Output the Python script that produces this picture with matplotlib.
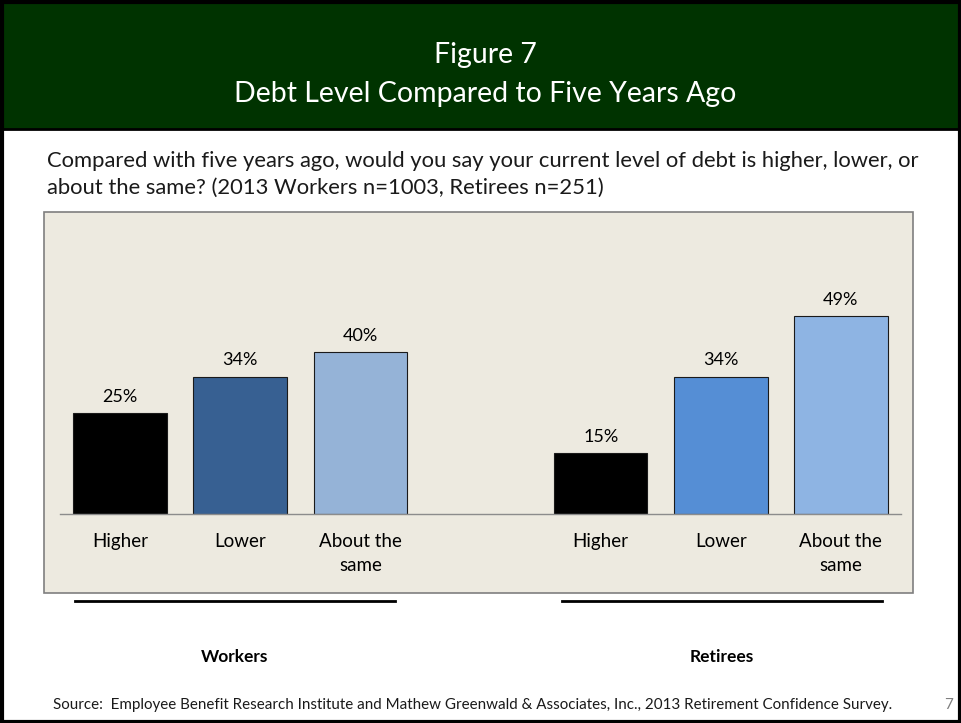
"""
Figure 7: Debt level compared to five years ago (workers vs retirees).
"""

import matplotlib
matplotlib.use("Agg")
import matplotlib.pyplot as plt
from matplotlib.patches import Rectangle
from matplotlib.lines import Line2D


# ==================== data ====================

CATEGORIES = ["Higher", "Lower", "About the\nsame"]
GROUPS = ["Workers", "Retirees"]
WORKERS = [25, 34, 40]
RETIREES = [15, 34, 49]

WORKER_COLORS = ["#000000", "#376092", "#95B3D7"]
RETIREE_COLORS = ["#000000", "#558ED5", "#8EB4E3"]

TITLE_LINES = ["Figure 7", "Debt Level Compared to Five Years Ago"]
QUESTION = ["Compared with five years ago, would you say your current level of debt is higher, lower, or",
            "about the same? (2013 Workers n=1003, Retirees n=251)"]
SOURCE = ("Source:  Employee Benefit Research Institute and Mathew Greenwald & Associates, Inc., "
          "2013 Retirement Confidence Survey.")
PAGE = "7"

# ==================== layout (pixels) ====================

W, H = 961, 723
FONT = "Lato"


def fx(x):
    return x / W


def fy(y):
    return 1 - y / H


def main():
    plt.rcParams["font.family"] = [FONT, "DejaVu Sans"]
    fig = plt.figure(figsize=(W / 100, H / 100), dpi=100)
    fig.patch.set_facecolor("white")

    # header band
    fig.patches.append(Rectangle((fx(2), fy(129)), fx(957), 129 / H, transform=fig.transFigure,
                                 facecolor="#003300", edgecolor="black", linewidth=2, zorder=0))
    fig.text(fx(485), fy(63), TITLE_LINES[0], ha="center", va="baseline", color="white", fontsize=20.5)
    fig.text(fx(485), fy(102), TITLE_LINES[1], ha="center", va="baseline", color="white", fontsize=20.5)

    # outer border
    fig.patches.append(Rectangle((fx(1.5), fy(721.5)), fx(958), 720 / H, transform=fig.transFigure,
                                 facecolor="none", edgecolor="black", linewidth=3, zorder=5))

    # question
    fig.text(fx(47), fy(167), QUESTION[0], ha="left", va="baseline", fontsize=15.8, color="#1a1a1a")
    fig.text(fx(47), fy(194), QUESTION[1], ha="left", va="baseline", fontsize=15.8, color="#1a1a1a")

    # chart panel
    fig.patches.append(Rectangle((fx(44), fy(593)), fx(869), 381 / H, transform=fig.transFigure,
                                 facecolor="#EDEAE0", edgecolor="#7F7F7F", linewidth=1.2, zorder=0))

    ymax = 60
    px_per_unit = 4.04
    top = 514 - ymax * px_per_unit
    ax = fig.add_axes([fx(60), fy(514), fx(901 - 60), (514 - top) / H])
    ax.set_facecolor("none")
    ax.set_zorder(2)

    positions = [0, 1, 2, 4, 5, 6]
    values = WORKERS + RETIREES
    colors = WORKER_COLORS + RETIREE_COLORS
    bars = ax.bar(positions, values, width=0.78, color=colors, edgecolor="#1a1a1a", linewidth=0.8)
    for b, v in zip(bars, values):
        ax.annotate(f"{v}%", (b.get_x() + b.get_width() / 2, v), xytext=(0, 6),
                    textcoords="offset points", ha="center", va="bottom", fontsize=13)

    ax.set_xlim(-0.5, 6.5)
    ax.set_ylim(0, ymax)
    ax.set_xticks(positions, CATEGORIES * 2)
    ax.tick_params(axis="x", length=0, pad=14, labelsize=13.5)
    for lab in ax.get_xticklabels():
        lab.set_linespacing(1.45)
    ax.set_yticks([])
    for s in ["left", "right", "top"]:
        ax.spines[s].set_visible(False)
    ax.spines["bottom"].set_color("#8c8c8c")
    ax.spines["bottom"].set_linewidth(1.0)

    # group lines and labels
    for (x0, x1), name in zip([(75, 395), (562, 882)], GROUPS):
        fig.add_artist(Line2D([fx(x0), fx(x1)], [fy(601), fy(601)], color="black", linewidth=2))
        fig.text(fx((x0 + x1) / 2), fy(657), name, ha="center", va="center",
                 fontsize=12.5, fontweight="bold")

    fig.text(fx(53), fy(705), SOURCE, ha="left", va="center", fontsize=10.9, color="#1a1a1a")
    fig.text(fx(953), fy(705), PAGE, ha="right", va="center", fontsize=11, color="#7f7f7f")

    fig.savefig("out.png", dpi=100)


if __name__ == "__main__":
    main()
